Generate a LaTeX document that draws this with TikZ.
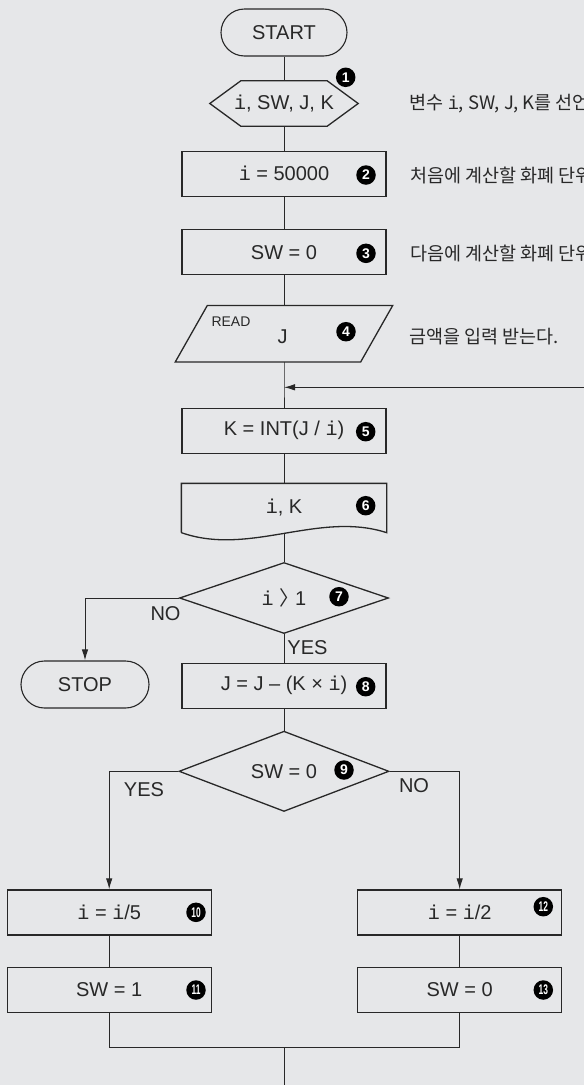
\documentclass[tikz,border=0pt]{standalone}
\usepackage{fontspec}
\setmainfont{Liberation Sans}
\setmonofont{Liberation Mono}
\newfontfamily\kr{Noto Sans CJK KR}
\usetikzlibrary{arrows.meta,calc,shapes.geometric}
\definecolor{bg}{RGB}{230,231,233}
\definecolor{ink}{RGB}{40,40,40}
\newcommand{\ivar}{{\ttfamily i}}
\newcommand{\twodig}[1]{{\addfontfeature{FakeStretch=0.6}#1}}

\begin{document}
\begin{tikzpicture}[
  x=1pt,y=-1pt,
  font=\fontsize{20}{24}\selectfont,
  text=ink,
  proc/.style={draw=ink, line width=1.3pt, rectangle, minimum width=204pt,
               minimum height=45pt, inner sep=0pt},
  term/.style={draw=ink, line width=1.1pt, rounded corners=23.5pt,
               minimum height=47pt, inner sep=0pt},
  dec/.style={draw=ink, line width=1.3pt, diamond, minimum width=210pt,
              minimum height=71pt, inner sep=0pt},
  outline/.style={draw=ink, line width=1.3pt},
  num/.style={circle, fill=black, text=white, inner sep=0pt, minimum size=19.5pt,
              font=\fontsize{14}{14}\selectfont\bfseries},
  sidenote/.style={anchor=west, inner sep=0pt, font=\kr\fontsize{18.5}{22}\selectfont},
  yn/.style={inner sep=0pt},
  line/.style={draw=ink, line width=1pt},
  arr/.style={line, -{Latex[length=11pt,width=6.5pt]}}
]

\useasboundingbox (0,0) rectangle (584,1085);
\clip (0,0) rectangle (584,1085);
\fill[bg] (0,0) rectangle (584,1085);

\node[term, minimum width=126pt] (start) at (284,32.5) {START};

\node[minimum width=148pt, minimum height=45pt, inner sep=0pt] (decl) at (284,103.5) {\ivar, SW, J, K};
\draw[outline] (decl.west) -- ([xshift=31pt]decl.north west) -- ([xshift=-31pt]decl.north east)
  -- (decl.east) -- ([xshift=-31pt]decl.south east) -- ([xshift=31pt]decl.south west) -- cycle;
\node[num] (n1) at (345.7,77.3) {1};
\node[sidenote] (t1) at (409.5,103.3) {변수 \ivar, SW, J, K를 선언};

\node[proc] (init) at (284,173.8) {\ivar{} = 50000};
\node[num] (n2) at (366,175) {2};
\node[sidenote] (t2) at (410,175) {처음에 계산할 화폐 단위};

\node[proc] (swz) at (284,252.2) {SW = 0};
\node[num] (n3) at (366,253.3) {3};
\node[sidenote] (t3) at (410,253.3) {다음에 계산할 화폐 단위};

\node[minimum width=185pt, minimum height=56pt, inner sep=0pt] (readj) at (284,333.7) {};
\draw[outline] ([xshift=16pt]readj.north west) -- ([xshift=16pt]readj.north east)
  -- ([xshift=-16pt]readj.south east) -- ([xshift=-16pt]readj.south west) -- cycle;
\node[inner sep=0pt, font=\fontsize{14}{14}\selectfont] (readlbl) at (231,321.7) {READ};
\node[inner sep=0pt] (jvar) at (282.7,336.7) {J};
\node[num] (n4) at (346,331.7) {4};
\node[sidenote] (t4) at (409.3,336.7) {금액을 입력 받는다.};

\coordinate (join) at (284,387.3);
\coordinate (loopin) at (584,387.3);

\node[proc] (calc) at (284,430.8) {K = INT(J / \ivar)};
\node[num] (n5) at (365.7,431.7) {5};

\node[proc, draw=none, minimum height=48pt] (outp) at (284,508) {\ivar, K};
\draw[outline] (outp.south west) -- (outp.north west) -- (outp.north east) -- (outp.south east)
  .. controls +(-68,-22) and +(68,24) .. (outp.south west);
\node[num] (n6) at (365.7,505.7) {6};

\node[dec, minimum width=209pt] (chk) at (284,598) {\ivar{} {\kr 〉}\kern-4pt 1};
\node[num] (n7) at (339,596.7) {7};
\node[yn] (no1) at (165.5,613.3) {NO};
\node[yn] (yes1) at (307.5,647.3) {YES};
\node[term, minimum width=128pt] (stop) at (85,684.5) {STOP};

\node[proc] (sub) at (284,685.8) {J = J – (K × \ivar)};
\node[num] (n8) at (365.7,686.7) {8};

\node[dec] (sel) at (284,771.3) {SW = 0};
\node[num] (n9) at (344,770) {9};
\node[yn] (yes2) at (144,789.3) {YES};
\node[yn] (no2) at (414,785.7) {NO};

\node[proc] (div5) at (109.2,912.5) {\ivar{} = \ivar/5};
\node[num] (n10) at (196,912.3) {\twodig{10}};
\node[proc] (set1) at (109.2,989.8) {SW = 1};
\node[num] (n11) at (196,990) {\twodig{11}};

\node[proc] (div2) at (459.7,912.5) {\ivar{} = \ivar/2};
\node[num] (n12) at (543.3,906.7) {\twodig{12}};
\node[proc] (set0) at (459.7,989.8) {SW = 0};
\node[num] (n13) at (543.3,990) {\twodig{13}};

\coordinate (merge) at (284,1047.3);
\coordinate (tail) at (284,1085);

\draw[line] (start.south) -- (decl.north);
\draw[line] (decl.south) -- (init.north);
\draw[line] (init.south) -- (swz.north);
\draw[line] (swz.south) -- (readj.north);
\draw[line] (readj.south) -- (join) -- (calc.north);
\draw[arr] (loopin) -- (join);
\draw[line] (calc.south) -- (outp.north);
\draw[line] (outp.south) -- (chk.north);
\draw[arr] (chk.west) -| (stop.north);
\draw[line] (chk.south) -- (sub.north);
\draw[line] (sub.south) -- (sel.north);
\draw[arr] (sel.west) -| (div5.north);
\draw[arr] (sel.east) -| (div2.north);
\draw[line] (div5.south) -- (set1.north);
\draw[line] (div2.south) -- (set0.north);
\draw[line] (set1.south) |- (merge) -| (set0.south);
\draw[line] (merge) -- (tail);

\end{tikzpicture}
\end{document}
